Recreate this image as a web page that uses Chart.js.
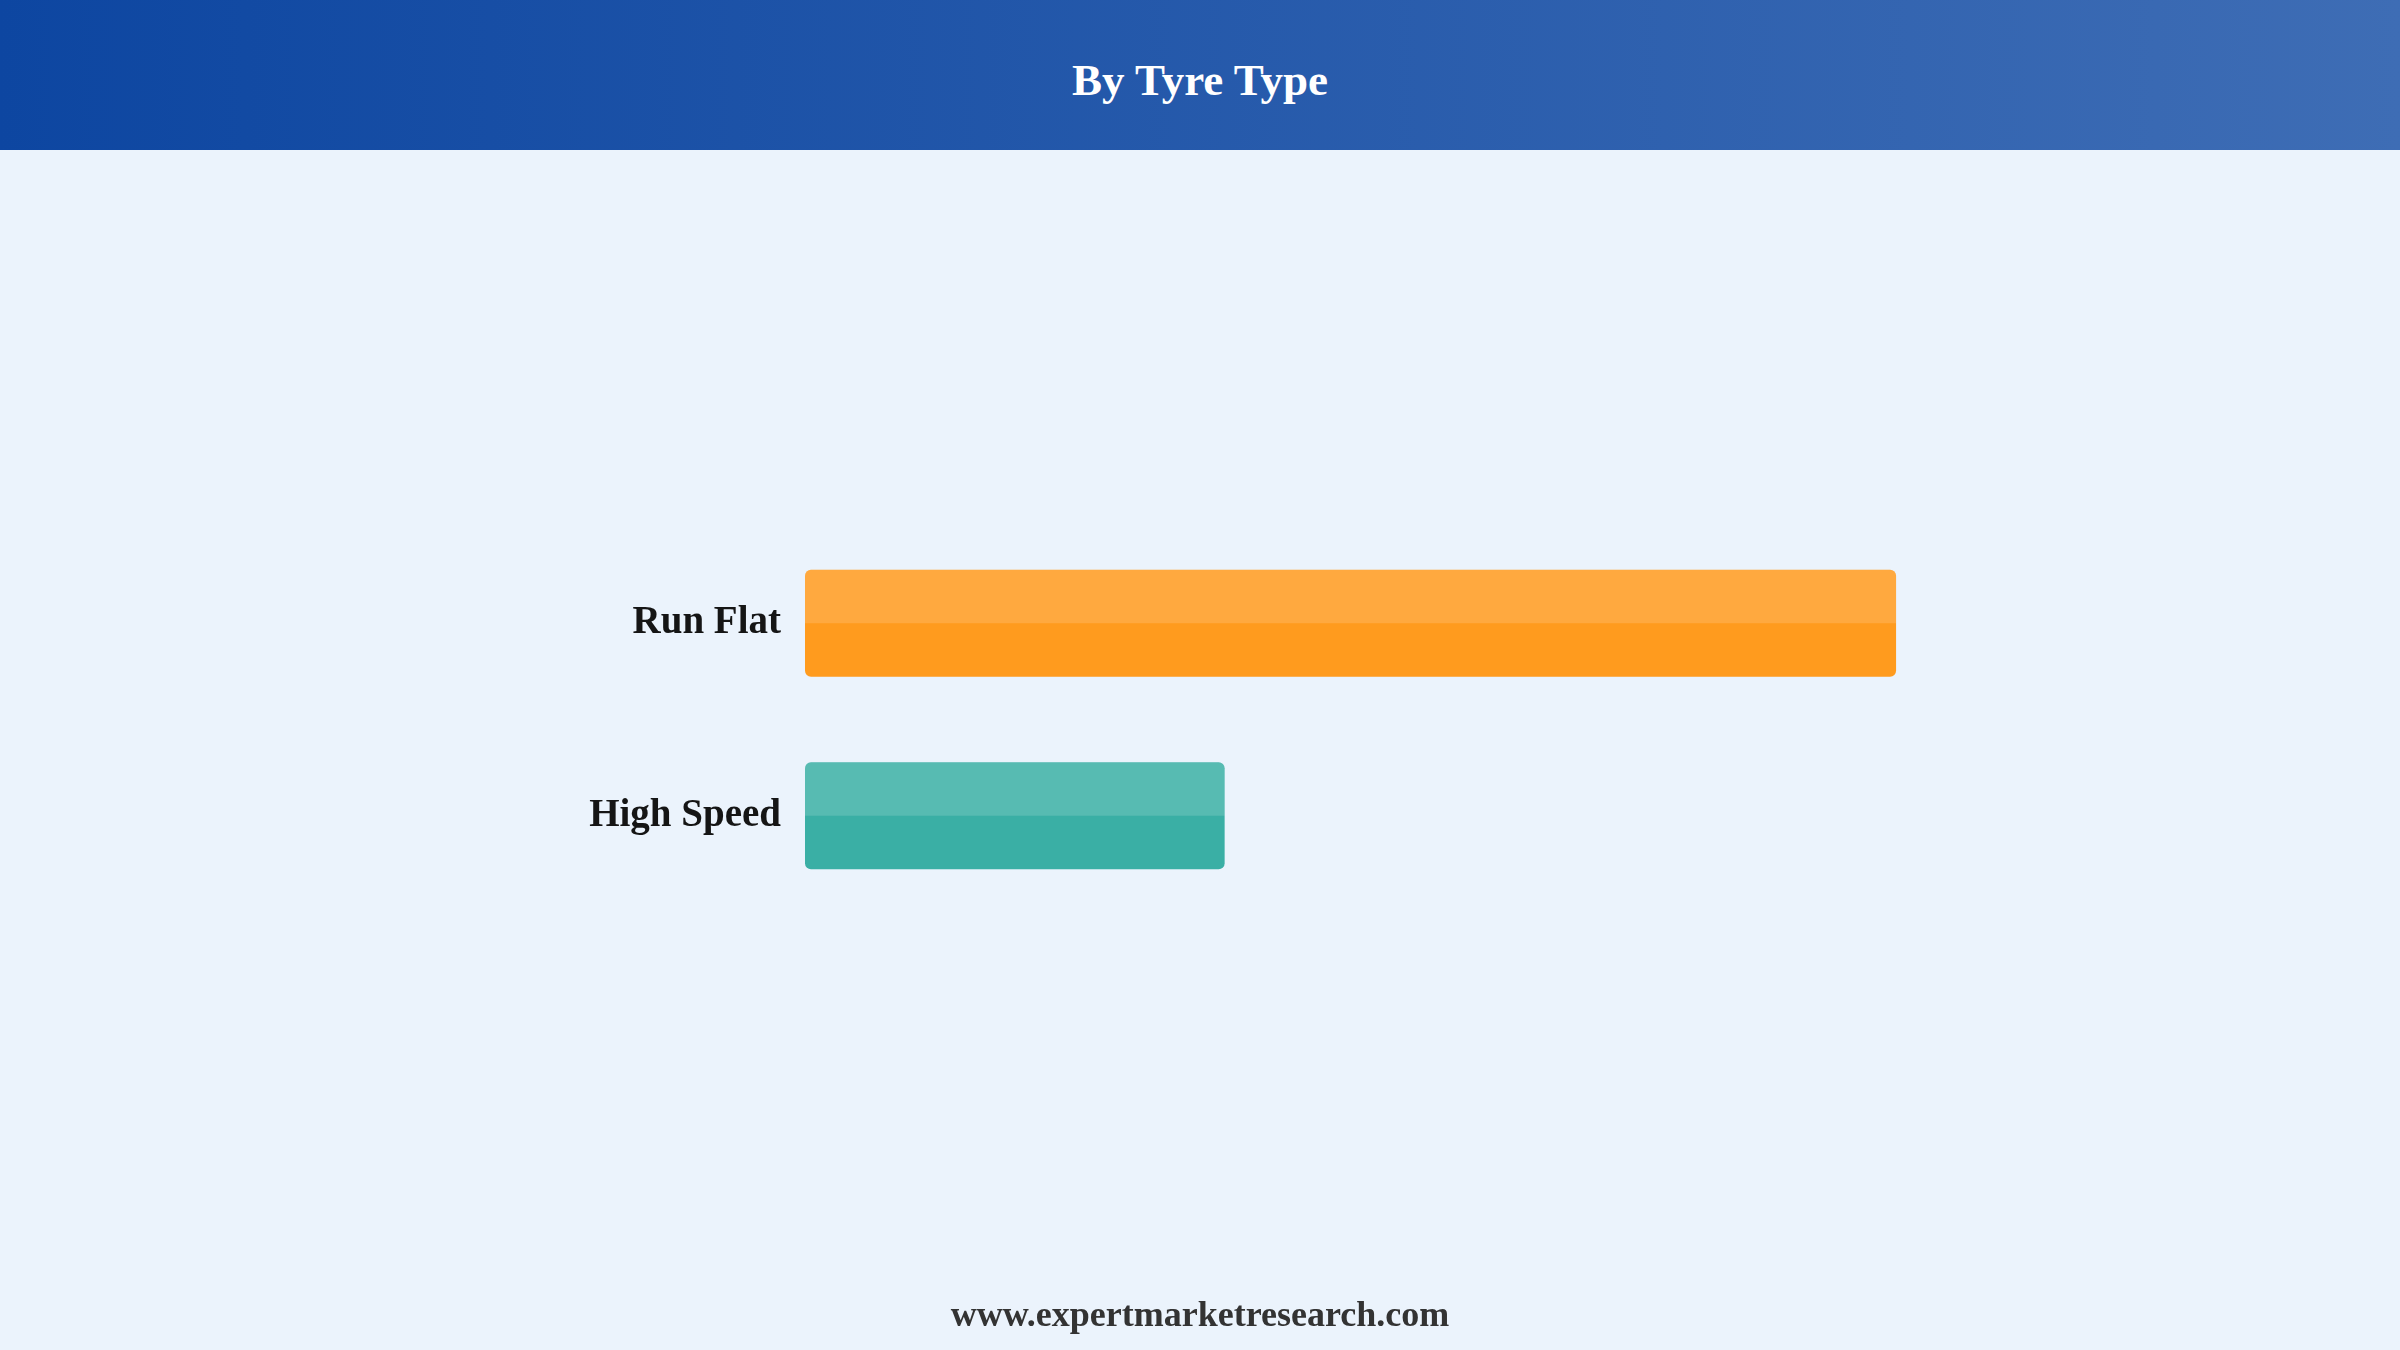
<!DOCTYPE html>
<html>
<head>
<meta charset="utf-8">
<script src="https://cdn.jsdelivr.net/npm/chart.js@4.4.0/dist/chart.umd.min.js"></script>
<style>
  html, body { margin: 0; padding: 0; }
  body { width: 2400px; height: 1350px; background: #ebf3fc; position: relative; overflow: hidden; font-family: "Liberation Serif", "DejaVu Serif", serif; }
  .header { position: absolute; left: 0; top: 0; width: 2400px; height: 150px; background: linear-gradient(to right, #0d46a1, #3e6db5); display: flex; align-items: center; justify-content: center; }
  .header h1 { margin: 0; padding-top: 10px; color: #fff; font-size: 45px; font-weight: bold; }
  .chartBox { position: absolute; left: 0; top: 3px; }
  .footer { position: absolute; left: 0; width: 2400px; top: 1293px; text-align: center; font-size: 36px; font-weight: bold; color: #333; }
</style>
</head>
<body>
<div class="header"><h1>By Tyre Type</h1></div>
<canvas class="chartBox" id="chart" width="2400" height="1350"></canvas>
<div class="footer">www.expertmarketresearch.com</div>
<script>
const categories = ['Run Flat', 'High Speed'];
const shareValues = [65, 25];
const barColors = ['#ff9b1e', '#3aafa5'];

// lighter band on the top half of each bar
const topShine = {
  id: 'topShine',
  afterDatasetsDraw(chart) {
    const ctx = chart.ctx;
    const meta = chart.getDatasetMeta(0);
    ctx.save();
    ctx.fillStyle = 'rgba(255, 255, 255, 0.15)';
    meta.data.forEach((bar) => {
      const { x, y, base, height } = bar.getProps(['x', 'y', 'base', 'height'], true);
      const left = Math.min(base, x);
      const w = Math.abs(x - base);
      ctx.beginPath();
      ctx.roundRect(left, y - height / 2, w, height / 2, [6, 6, 0, 0]);
      ctx.fill();
    });
    ctx.restore();
  }
};

new Chart(document.getElementById('chart'), {
  type: 'bar',
  data: {
    labels: categories,
    datasets: [{
      data: shareValues,
      backgroundColor: barColors,
      borderRadius: 6,
      borderSkipped: false,
      categoryPercentage: 1,
      barPercentage: 0.555,
    }],
  },
  options: {
    indexAxis: 'y',
    responsive: false,
    animation: false,
    devicePixelRatio: 1,
    layout: { padding: { left: 405, right: 420, top: 524, bottom: 441 } },
    scales: {
      x: { display: false, min: 0, max: 70 },
      y: {
        afterFit: (scale) => { scale.width = 400; },
        grid: { display: false, drawTicks: false },
        border: { display: false },
        ticks: {
          padding: 24,
          color: '#151515',
          font: { family: 'Liberation Serif', size: 39, weight: 'bold' },
        },
      },
    },
    plugins: {
      legend: { display: false },
      tooltip: { enabled: false },
    },
  },
  plugins: [topShine],
});
</script>
</body>
</html>
